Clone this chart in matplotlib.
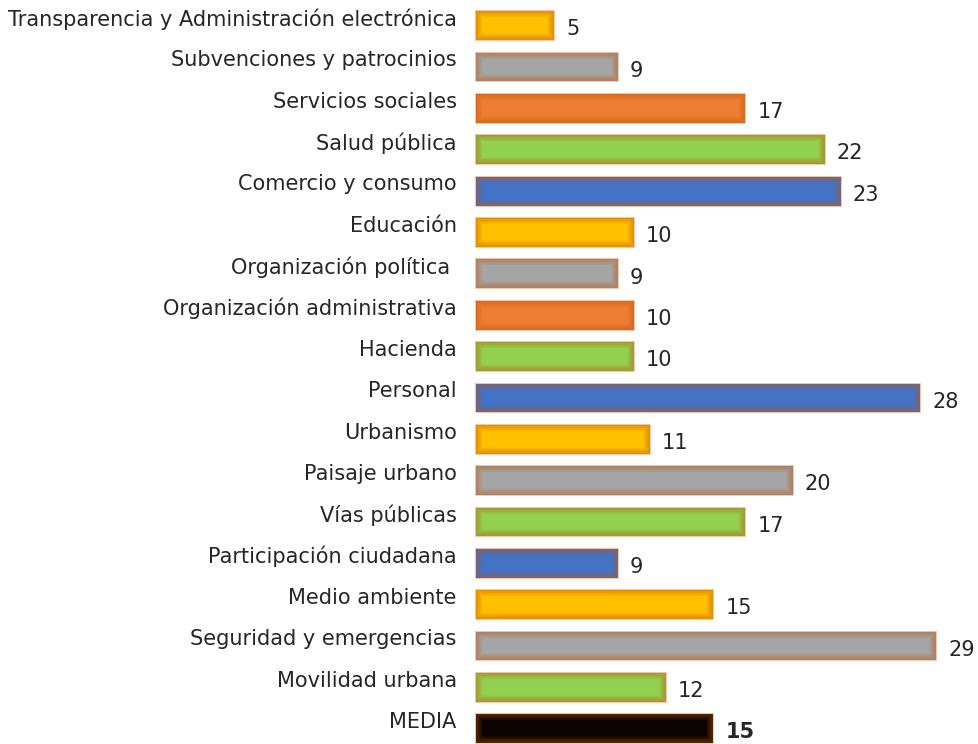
import matplotlib
matplotlib.use("Agg")
import matplotlib.pyplot as plt
import numpy as np

categories = [
    "Transparencia y Administración electrónica",
    "Subvenciones y patrocinios",
    "Servicios sociales",
    "Salud pública",
    "Comercio y consumo",
    "Educación",
    "Organización política ",
    "Organización administrativa",
    "Hacienda",
    "Personal",
    "Urbanismo",
    "Paisaje urbano",
    "Vías públicas",
    "Participación ciudadana",
    "Medio ambiente",
    "Seguridad y emergencias",
    "Movilidad urbana",
    "MEDIA",
]
values = [5, 9, 17, 22, 23, 10, 9, 10, 10, 28, 11, 20, 17, 9, 15, 29, 12, 15]

yellow, gray, orange, green, blue = "#FFC000", "#A5A5A5", "#ED7D31", "#92D050", "#4472C4"
bar_colors = [yellow, gray, orange, green, blue,
              yellow, gray, orange, green, blue,
              yellow, gray, green, blue, yellow, gray, green, "#0A0502"]

glow = "#C55A11"
text_color = "#262626"

fig = plt.figure(figsize=(9.79, 7.44), dpi=100)
ax = fig.add_axes([475 / 979, 0, 504 / 979, 1])

y = np.arange(len(categories))
bars = ax.barh(y, values, height=0.72, color=bar_colors, edgecolor="none", zorder=2)

# soft inner glow along the bar borders, clipped to each bar
for b in bars:
    for lw in np.arange(1, 11, 1.0):
        r = plt.Rectangle(b.get_xy(), b.get_width(), b.get_height(),
                          facecolor="none", edgecolor=glow, linewidth=lw,
                          alpha=0.06, zorder=3)
        ax.add_patch(r)
        r.set_clip_path(b)
    ax.add_patch(plt.Rectangle(b.get_xy(), b.get_width(), b.get_height(),
                               facecolor="none", edgecolor="#F4C7A8",
                               linewidth=0.7, zorder=4))

for i, (v, lab) in enumerate(zip(values, categories)):
    bold = lab == "MEDIA"
    ax.text(v + 0.75, i + 0.1, str(v), va="center", ha="left",
            fontsize=15, color=text_color,
            fontweight="bold" if bold else "normal")
    ax.text(-1.15, i - 0.15, lab, va="center", ha="right",
            fontsize=15, color=text_color)

ax.set_xlim(0, 504 / 15.9)
ax.set_ylim(17.38, -0.61)
ax.axis("off")

fig.savefig("out.png", dpi=100)
